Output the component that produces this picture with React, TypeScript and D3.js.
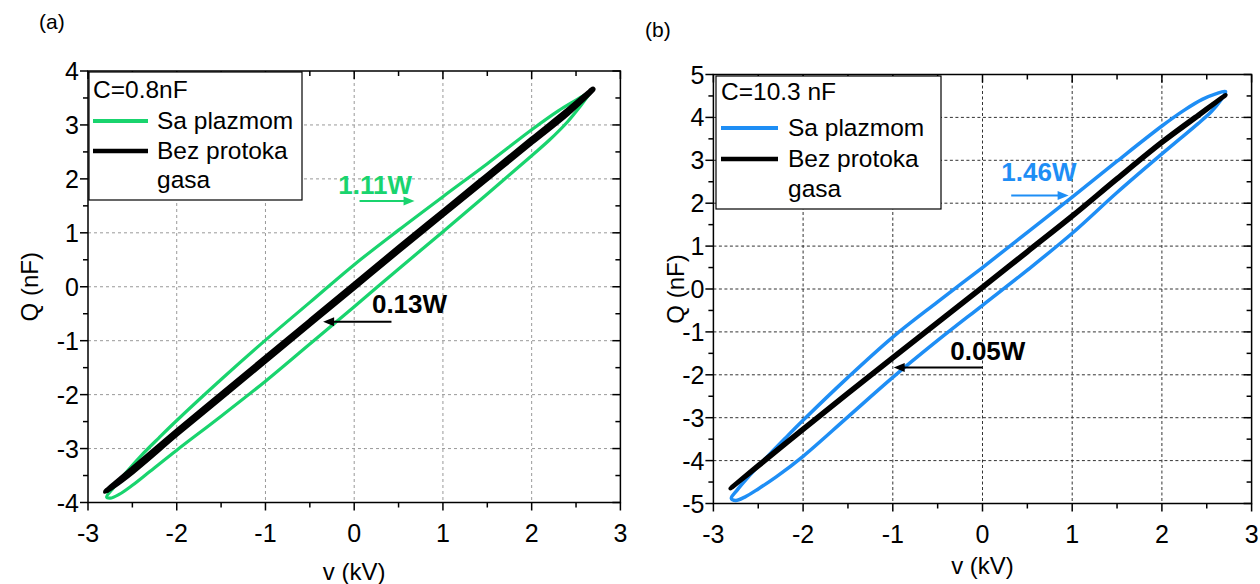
import React from 'react';
import * as d3 from 'd3';

type P = [number, number];

// ---------- data ----------
const xTicks = [-3, -2, -1, 0, 1, 2, 3];
const yTicksA = [-4, -3, -2, -1, 0, 1, 2, 3, 4];
const yTicksB = [-5, -4, -3, -2, -1, 0, 1, 2, 3, 4, 5];

// Panel (a), C = 0.8 nF
const plasmaA_up: P[] = [
  [-2.79, -3.9], [-2.72, -3.74], [-2.6, -3.5], [-2.4, -3.13], [-2.2, -2.8], [-2, -2.48],
  [-1.5, -1.72], [-1, -0.99], [-0.5, -0.29], [0, 0.41], [0.5, 1.05], [1, 1.67],
  [1.5, 2.28], [2, 2.91], [2.3, 3.26], [2.5, 3.46], [2.62, 3.58], [2.69, 3.66],
];
const plasmaA_down: P[] = [
  [2.69, 3.66], [2.64, 3.55], [2.55, 3.35], [2.4, 3.05], [2.2, 2.72], [2, 2.43],
  [1.5, 1.72], [1, 1.02], [0.5, 0.33], [0, -0.37], [-0.5, -1.06], [-1, -1.75],
  [-1.5, -2.4], [-2, -3.03], [-2.3, -3.42], [-2.5, -3.68], [-2.65, -3.85], [-2.75, -3.92], [-2.79, -3.9],
];
const noFlowA_up: P[] = [
  [-2.8, -3.8], [-2.5, -3.38], [-2, -2.68], [-1.5, -2.0], [-1, -1.32], [-0.5, -0.64],
  [0, 0.04], [0.5, 0.72], [1, 1.39], [1.5, 2.06], [2, 2.73], [2.4, 3.26], [2.69, 3.66],
];
const noFlowA_down: P[] = [
  [2.69, 3.66], [2.4, 3.21], [2, 2.68], [1.5, 2.01], [1, 1.34], [0.5, 0.67],
  [0, -0.01], [-0.5, -0.69], [-1, -1.37], [-1.5, -2.05], [-2, -2.73], [-2.5, -3.43], [-2.8, -3.8],
];

// Panel (b), C = 10.3 nF
const plasmaB_up: P[] = [
  [-2.8, -4.88], [-2.74, -4.7], [-2.62, -4.4], [-2.45, -4.02], [-2.2, -3.48], [-2, -3.06],
  [-1.5, -2.06], [-1, -1.12], [-0.5, -0.3], [0, 0.5], [0.5, 1.32], [1, 2.14],
  [1.5, 2.98], [2, 3.8], [2.25, 4.17], [2.45, 4.42], [2.6, 4.55], [2.71, 4.6],
];
const plasmaB_down: P[] = [
  [2.71, 4.6], [2.65, 4.38], [2.55, 4.13], [2.4, 3.85], [2.2, 3.5], [2, 3.15],
  [1.5, 2.25], [1, 1.3], [0.5, 0.44], [0, -0.38], [-0.5, -1.2], [-1, -2.06],
  [-1.5, -2.98], [-2, -3.9], [-2.3, -4.38], [-2.5, -4.66], [-2.65, -4.85], [-2.75, -4.93], [-2.8, -4.88],
];
const noFlowB_up: P[] = [
  [-2.81, -4.65], [-2.5, -4.1], [-2, -3.25], [-1.5, -2.41], [-1, -1.58], [-0.5, -0.76],
  [0, 0.06], [0.5, 0.89], [1, 1.72], [1.5, 2.59], [2, 3.44], [2.4, 4.06], [2.71, 4.52],
];
const noFlowB_down: P[] = [
  [2.71, 4.52], [2.4, 4.02], [2, 3.4], [1.5, 2.55], [1, 1.68], [0.5, 0.85],
  [0, 0.02], [-0.5, -0.8], [-1, -1.62], [-1.5, -2.45], [-2, -3.29], [-2.5, -4.14], [-2.81, -4.65],
];

const legendLabels = ['Sa plazmom', 'Bez protoka', 'gasa'];

// annotations (data coordinates)
const annA = [
  { label: '1.11W', tx: -0.18, ty: 1.72, x0: 0.06, x1: 0.68, ay: 1.59, plasma: true },
  { label: '0.13W', tx: 0.2, ty: -0.48, x0: 0.42, x1: -0.35, ay: -0.65, plasma: false },
];
const annB = [
  { label: '1.46W', tx: 0.21, ty: 2.52, x0: 0.32, x1: 0.96, ay: 2.18, plasma: true },
  { label: '0.05W', tx: -0.36, ty: -1.66, x0: 0.0, x1: -0.99, ay: -1.83, plasma: false },
];

const FONT = '"Liberation Sans", Arial, Helvetica, sans-serif';

type PanelProps = {
  tag: string;
  tagPos: [number, number];
  frame: { l: number; r: number; t: number; b: number };
  yDomain: [number, number];
  yTicks: number[];
  gridColor: string;
  gridDash: string;
  color: string;
  plasma: [P[], P[]];
  noFlow: [P[], P[]];
  plasmaWidth: number;
  noFlowWidth: number;
  cLabel: string;
  legend: { x: number; y: number; w: number; h: number; rows: number[]; lineX: [number, number]; textX: number };
  ann: typeof annA;
  xTitleY: number;
  yTitleX: number;
};

function loopPath(up: P[], down: P[], x: d3.ScaleLinear<number, number>, y: d3.ScaleLinear<number, number>) {
  const pts = up.concat(down.slice(1, -1));
  const line = d3
    .line<P>()
    .x((d) => x(d[0]))
    .y((d) => y(d[1]))
    .curve(d3.curveCatmullRomClosed.alpha(0.5));
  return line(pts) || '';
}

function Panel(p: PanelProps) {
  const { l, r, t, b } = p.frame;
  const x = d3.scaleLinear().domain([-3, 3]).range([l, r]);
  const y = d3.scaleLinear().domain(p.yDomain).range([b, t]);
  const minorX = d3.range(-2.5, 3, 1);
  const minorY = d3.range(p.yDomain[0] + 0.5, p.yDomain[1], 1);
  const maj = 8;
  const mnr = 5;
  const fs = 25;
  const innerX = xTicks.filter((v) => v > -3 && v < 3);
  const innerY = p.yTicks.filter((v) => v > p.yDomain[0] && v < p.yDomain[1]);
  const lg = p.legend;

  const arrow = (x0: number, x1: number, yy: number, col: string, key: string) => {
    const px0 = x(x0);
    const px1 = x(x1);
    const py = y(yy);
    const dir = px1 > px0 ? 1 : -1;
    const hl = 11;
    const hw = 4.5;
    return (
      <g key={key}>
        <line x1={px0} y1={py} x2={px1 - dir * hl * 0.8} y2={py} stroke={col} strokeWidth={2} />
        <path d={`M${px1},${py} L${px1 - dir * hl},${py - hw} L${px1 - dir * hl},${py + hw} Z`} fill={col} />
      </g>
    );
  };

  return (
    <g>
      <text x={p.tagPos[0]} y={p.tagPos[1]} fontSize={21} fontFamily={FONT}>{p.tag}</text>
      {/* grid */}
      {innerX.map((v) => (
        <line key={'gx' + v} x1={x(v)} x2={x(v)} y1={t} y2={b} stroke={p.gridColor} strokeWidth={1} strokeDasharray={p.gridDash} />
      ))}
      {innerY.map((v) => (
        <line key={'gy' + v} x1={l} x2={r} y1={y(v)} y2={y(v)} stroke={p.gridColor} strokeWidth={1} strokeDasharray={p.gridDash} />
      ))}
      {/* curves */}
      <path d={loopPath(p.plasma[0], p.plasma[1], x, y)} fill="none" stroke={p.color} strokeWidth={p.plasmaWidth} strokeLinejoin="round" />
      <path d={loopPath(p.noFlow[0], p.noFlow[1], x, y)} fill="none" stroke="#000" strokeWidth={p.noFlowWidth} strokeLinejoin="round" />
      {/* frame */}
      <rect x={l} y={t} width={r - l} height={b - t} fill="none" stroke="#000" strokeWidth={1.5} />
      {/* ticks */}
      {xTicks.map((v) => (
        <g key={'tx' + v}>
          <line x1={x(v)} x2={x(v)} y1={b} y2={b + maj} stroke="#000" strokeWidth={1.5} />
          <line x1={x(v)} x2={x(v)} y1={t} y2={t + maj} stroke="#000" strokeWidth={1.5} />
          <text x={x(v)} y={b + 39} textAnchor="middle" fontSize={fs} fontFamily={FONT}>{v}</text>
        </g>
      ))}
      {minorX.map((v) => (
        <g key={'mx' + v}>
          <line x1={x(v)} x2={x(v)} y1={b} y2={b + mnr} stroke="#000" strokeWidth={1.5} />
          <line x1={x(v)} x2={x(v)} y1={t} y2={t + mnr} stroke="#000" strokeWidth={1.5} />
        </g>
      ))}
      {p.yTicks.map((v) => (
        <g key={'ty' + v}>
          <line x1={l - maj} x2={l} y1={y(v)} y2={y(v)} stroke="#000" strokeWidth={1.5} />
          <line x1={r - maj} x2={r} y1={y(v)} y2={y(v)} stroke="#000" strokeWidth={1.5} />
          <text x={l - 9} y={y(v) + 9} textAnchor="end" fontSize={fs} fontFamily={FONT}>{v}</text>
        </g>
      ))}
      {minorY.map((v) => (
        <g key={'my' + v}>
          <line x1={l - mnr} x2={l} y1={y(v)} y2={y(v)} stroke="#000" strokeWidth={1.5} />
          <line x1={r - mnr} x2={r} y1={y(v)} y2={y(v)} stroke="#000" strokeWidth={1.5} />
        </g>
      ))}
      {/* axis titles */}
      <text x={(l + r) / 2} y={p.xTitleY} textAnchor="middle" fontSize={24} fontFamily={FONT}>v (kV)</text>
      <text transform={`translate(${p.yTitleX},${(t + b) / 2}) rotate(-90)`} textAnchor="middle" fontSize={24} fontFamily={FONT}>Q (nF)</text>
      {/* legend */}
      <rect x={lg.x} y={lg.y} width={lg.w} height={lg.h} fill="#fff" stroke="#000" strokeWidth={1.2} />
      <text x={lg.lineX[0]} y={lg.rows[0]} fontSize={24.5} fontFamily={FONT}>{p.cLabel}</text>
      <line x1={lg.lineX[0]} x2={lg.lineX[1]} y1={lg.rows[1] - 8} y2={lg.rows[1] - 8} stroke={p.color} strokeWidth={4} />
      <text x={lg.textX} y={lg.rows[1]} fontSize={24.5} fontFamily={FONT}>{legendLabels[0]}</text>
      <line x1={lg.lineX[0]} x2={lg.lineX[1]} y1={lg.rows[2] - 8} y2={lg.rows[2] - 8} stroke="#000" strokeWidth={4.5} />
      <text x={lg.textX} y={lg.rows[2]} fontSize={24.5} fontFamily={FONT}>{legendLabels[1]}</text>
      <text x={lg.textX} y={lg.rows[3]} fontSize={24.5} fontFamily={FONT}>{legendLabels[2]}</text>
      {/* annotations */}
      {p.ann.map((a, i) => {
        const col = a.plasma ? p.color : '#000';
        return (
          <g key={'a' + i}>
            <text x={x(a.tx)} y={y(a.ty)} fontSize={26} fontWeight="bold" fontFamily={FONT} fill={col}>{a.label}</text>
            {arrow(a.x0, a.x1, a.ay, col, 'ar' + i)}
          </g>
        );
      })}
    </g>
  );
}

export default function App() {
  return (
    <svg width={1260} height={584} style={{ position: 'absolute', left: 0, top: 0, background: '#fff' }}>
      <rect x={0} y={0} width={1260} height={584} fill="#fff" />
      <Panel
        tag="(a)"
        tagPos={[39, 29]}
        frame={{ l: 88, r: 620.4, t: 71, b: 502.5 }}
        yDomain={[-4, 4]}
        yTicks={yTicksA}
        gridColor="#999"
        gridDash="3,3"
        color="#19d46e"
        plasma={[plasmaA_up, plasmaA_down]}
        noFlow={[noFlowA_up, noFlowA_down]}
        plasmaWidth={3.2}
        noFlowWidth={5.5}
        cLabel="C=0.8nF"
        legend={{ x: 89, y: 72, w: 213, h: 128, rows: [98, 129, 159, 188], lineX: [93, 148], textX: 157 }}
        ann={annA}
        xTitleY={580}
        yTitleX={38}
      />
      <Panel
        tag="(b)"
        tagPos={[645, 37]}
        frame={{ l: 713.4, r: 1251.6, t: 74.5, b: 503.5 }}
        yDomain={[-5, 5]}
        yTicks={yTicksB}
        gridColor="#333"
        gridDash="3,2.5"
        color="#1e8ef5"
        plasma={[plasmaB_up, plasmaB_down]}
        noFlow={[noFlowB_up, noFlowB_down]}
        plasmaWidth={3.5}
        noFlowWidth={4.2}
        cLabel="C=10.3 nF"
        legend={{ x: 716, y: 76, w: 225, h: 133, rows: [100, 136, 167, 197], lineX: [721, 778], textX: 788 }}
        ann={annB}
        xTitleY={574}
        yTitleX={684}
      />
    </svg>
  );
}
